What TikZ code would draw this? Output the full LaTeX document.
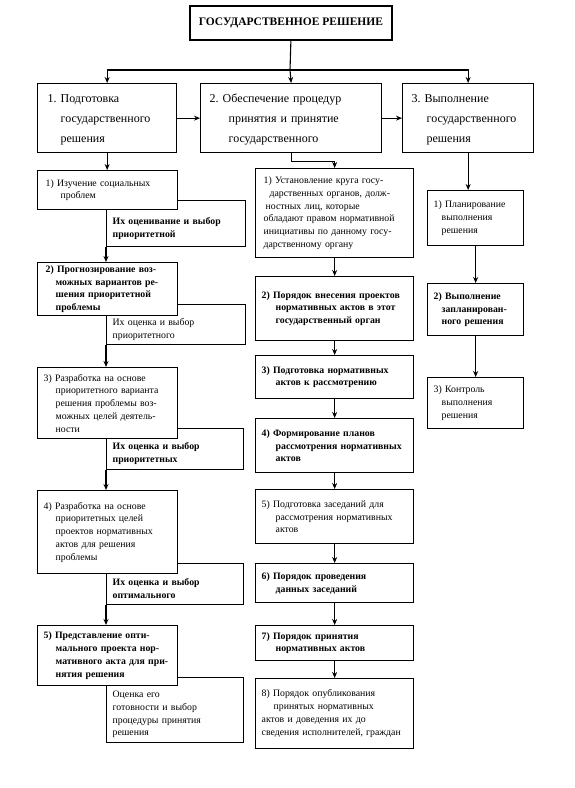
\documentclass[tikz,border=0pt]{standalone}
\usepackage{fontspec}
\setmainfont{Liberation Serif}
\usetikzlibrary{arrows.meta}
\frenchspacing
\newcommand\myind{\hspace*{12pt}}
\newcommand\mybox[7]{%
 \pgfmathsetmacro\mbw{#4-#2}%
 \pgfmathsetmacro\mbh{#5-#3}%
 \pgfmathsetmacro\mtw{#4-#2-12}%
 \node[box,#6,minimum width=\mbw pt,minimum height=\mbh pt,text width=\mtw pt,anchor=north west] (#1) at (#2,#3) {#7};}
\begin{document}
\begin{tikzpicture}[x=1pt,y=-1pt,
 box/.style={draw,line width=1.3pt,fill=white,inner xsep=6pt,inner ysep=1pt,align=left,font=\fontsize{9.8}{12.8}\selectfont},
 bfb/.style={font=\fontsize{9.8}{12.8}\selectfont\bfseries},
 big/.style={font=\fontsize{12}{20}\selectfont},
 arr/.style={line width=1.1pt,-{Stealth[length=6pt,width=5pt]}},
 ln/.style={line width=1.1pt}]
\useasboundingbox (0,0) rectangle (574,788);
% title
\node[box,line width=1.8pt,font=\fontsize{11.5}{14}\selectfont\bfseries,align=center,minimum width=202pt,minimum height=34pt,anchor=north west] (T) at (189,5) {ГОСУДАРСТВЕННОЕ РЕШЕНИЕ};
% top level
\mybox{B1}{37}{83}{176}{152}{big}{\rule{0pt}{12pt}\hspace*{4pt}1. Подготовка\\\hspace*{17pt}государственного\\\hspace*{17pt}решения}
\mybox{B2}{200}{83}{381}{152}{big}{\rule{0pt}{12pt}\hspace*{3pt}2. Обеспечение процедур\\\hspace*{22pt}принятия и принятие\\\hspace*{22pt}государственного}
\mybox{B3}{402}{83}{533}{152}{big}{\rule{0pt}{12pt}\hspace*{3pt}3. Выполнение\\\hspace*{18pt}государственного\\\hspace*{18pt}решения}
% left column
\mybox{L1a}{106}{200}{245}{246}{bfb}{\rule{0pt}{16pt}Их оценивание и выбор\\приоритетной}
\mybox{L1}{37}{170}{177}{209}{}{\hspace*{2pt}1) Изучение социальных\\\hspace*{17pt}проблем}
\mybox{L2a}{106}{304}{245}{344}{}{\rule{0pt}{16pt}Их оценка и выбор\\приоритетного}
\mybox{L2}{37}{262}{177}{315}{bfb}{\hspace*{2pt}2) Прогнозирование воз-\\\myind можных вариантов ре-\\\myind шения приоритетной\\\myind проблемы}
\mybox{L3a}{106}{428}{243}{469}{bfb}{\rule{0pt}{16pt}Их оценка и выбор\\приоритетных}
\mybox{L3}{37}{367}{177}{438}{}{3) Разработка на основе\\\myind приоритетного варианта\\\myind решения проблемы воз-\\\myind можных целей деятель-\\\myind ности}
\mybox{L4a}{106}{563}{243}{604}{bfb}{\rule{0pt}{16pt}Их оценка и выбор\\оптимального}
\mybox{L4}{37}{490}{177}{573}{}{4) Разработка на основе\\\myind приоритетных целей\\\myind проектов нормативных\\\myind актов для решения\\\myind проблемы}
\mybox{L5a}{106}{677}{243}{742}{}{\rule{0pt}{15pt}Оценка его\\готовности и выбор\\процедуры принятия\\решения}
\mybox{L5}{37}{625}{177}{685}{bfb}{5) Представление опти-\\\myind мального проекта нор-\\\myind мативного акта для при-\\\myind нятия решения}
% centre column
\mybox{C1}{255}{168}{413}{257}{}{\hspace*{2pt}1) Установление круга госу-\\\hspace*{8pt}дарственных органов, долж-\\\hspace*{4pt}ностных лиц, которые\\\hspace*{2pt}обладают правом нормативной\\\hspace*{2pt}инициативы по данному госу-\\\hspace*{2pt}дарственному органу}
\mybox{C2}{255}{276}{413}{340}{bfb}{2) Порядок внесения проектов\\\hspace*{14pt}нормативных актов в этот\\\hspace*{14pt}государственный орган}
\mybox{C3}{255}{355}{413}{398}{bfb}{3) Подготовка нормативных\\\hspace*{14pt}актов к рассмотрению}
\mybox{C4}{255}{418}{413}{472}{bfb}{4) Формирование планов\\\hspace*{14pt}рассмотрения нормативных\\\hspace*{14pt}актов}
\mybox{C5}{255}{489}{413}{543}{}{5) Подготовка заседаний для\\\hspace*{14pt}рассмотрения нормативных\\\hspace*{14pt}актов}
\mybox{C6}{255}{563}{413}{602}{bfb}{6) Порядок проведения\\\hspace*{14pt}данных заседаний}
\mybox{C7}{255}{625}{413}{660}{bfb}{7) Порядок принятия\\\hspace*{14pt}нормативных актов}
\mybox{C8}{255}{678}{413}{748}{}{8) Порядок опубликования\\\hspace*{12pt}принятых нормативных\\актов и доведения их до\\сведения исполнителей, граждан}
% right column
\mybox{R1}{427}{190}{523}{245}{}{1) Планирование\\\hspace*{8pt}выполнения\\\hspace*{8pt}решения}
\mybox{R2}{427}{283}{523}{335}{bfb}{2) Выполнение\\\hspace*{8pt}запланирован-\\\hspace*{8pt}ного решения}
\mybox{R3}{427}{377}{523}{428}{}{3) Контроль\\\hspace*{8pt}выполнения\\\hspace*{8pt}решения}
% connectors
\coordinate (J) at (290,70);
\draw[ln] (T.south) -- (J);
\draw[arr] (J) -- (B2.north);
\draw[arr] (J) -| (B1.north);
\draw[arr] (J) -| (B3.north);
\draw[arr] (B1) -- (B2);
\draw[arr] (B2) -- (B3);
\draw[arr] (B1.south) -- (B1.south |- L1.north);
\draw[arr] (B2.south) -- ++(0,8) -| (C1.north);
\draw[arr] (B3.south) -- (B3.south |- R1.north);
\draw[arr] (L1a.south west) -- (L1a.south west |- L2.north);
\draw[arr] (L2a.south west) -- (L2a.south west |- L3.north);
\draw[arr] (L3a.south west) -- (L3a.south west |- L4.north);
\draw[arr] (L4a.south west) -- (L4a.south west |- L5.north);
\draw[arr] (C1) -- (C2);
\draw[arr] (C2) -- (C3);
\draw[arr] (C3) -- (C4);
\draw[arr] (C4) -- (C5);
\draw[arr] (C5) -- (C6);
\draw[arr] (C6) -- (C7);
\draw[arr] (C7) -- (C8);
\draw[arr] (R1) -- (R2);
\draw[arr] (R2) -- (R3);
\end{tikzpicture}
\end{document}
